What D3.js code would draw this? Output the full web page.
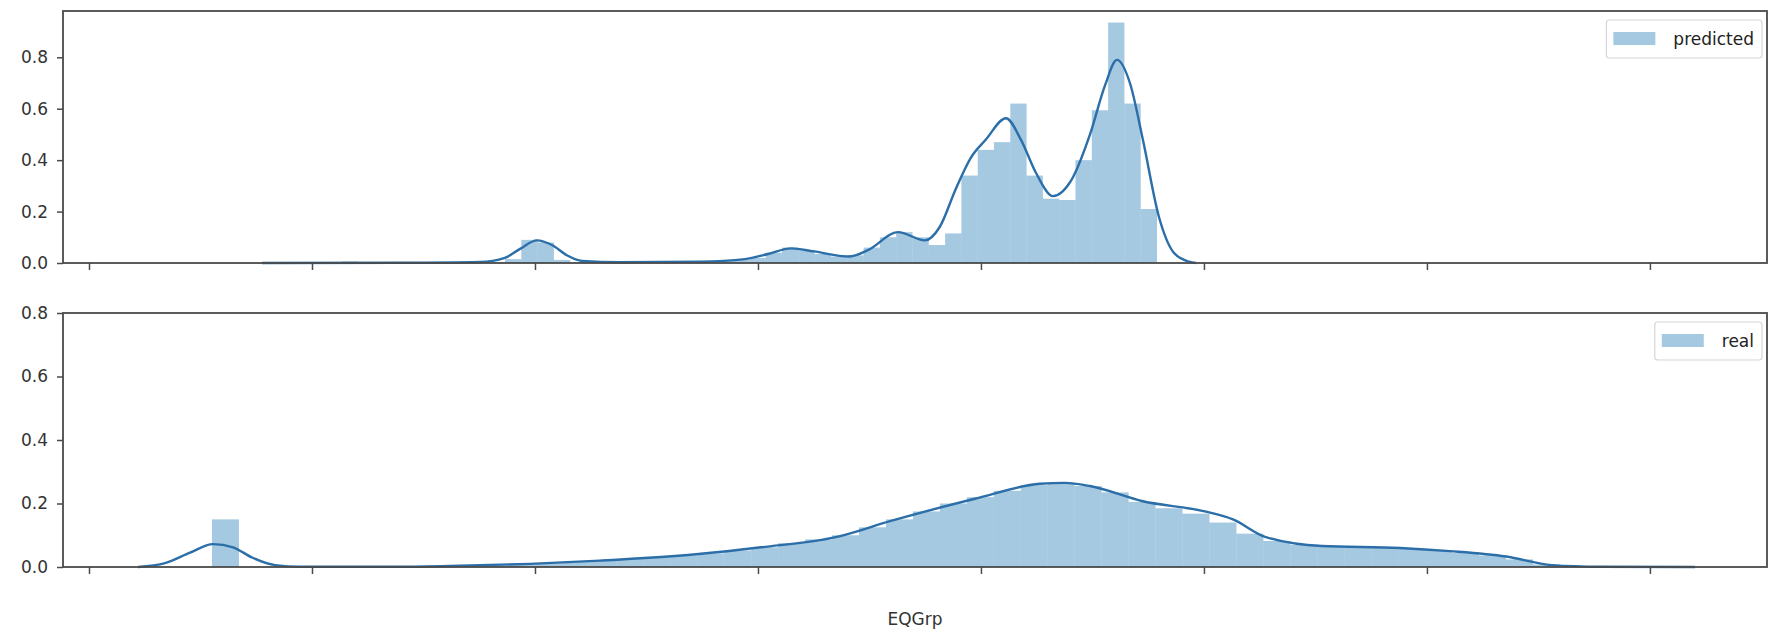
<!DOCTYPE html>
<html>
<head>
<meta charset="utf-8">
<script src="https://cdn.jsdelivr.net/npm/d3@7"></script>
<style>
  body { margin: 0; background: #fff; }
  text { font-family: "DejaVu Sans", sans-serif; }
</style>
</head>
<body>
<div id="chart"></div>
<script>
// x ticks carry no labels in the source picture
var xTicks = [0, 1, 2, 3, 4, 5, 6, 7];
var yTicksTop = [0, 0.2, 0.4, 0.6, 0.8];
var yTicksBottom = [0, 0.2, 0.4, 0.6, 0.8];

// predicted: 50 histogram bins + kde curve
var predBinStart = 1.1345, predBinWidth = 0.0731;
var predHeights = [
  0.006, 0, 0, 0, 0, 0, 0.003, 0, 0.003, 0.004,
  0.015, 0.09, 0.08, 0.012, 0.003, 0, 0.003, 0.003, 0.004, 0.003,
  0.004, 0.005, 0.005, 0.008, 0.012, 0.02, 0.04, 0.06, 0.05, 0.035,
  0.025, 0.03, 0.06, 0.10, 0.12, 0.10, 0.07, 0.115, 0.34, 0.44,
  0.47, 0.62, 0.34, 0.25, 0.245, 0.40, 0.594, 0.935, 0.62, 0.21
];
var predKdeX = [0.776, 1.395, 1.753, 1.865, 1.933, 2.009, 2.076, 2.143, 2.211, 2.381,
  2.740, 2.942, 3.045, 3.148, 3.251, 3.408, 3.493, 3.628, 3.749, 3.815,
  3.888, 3.955, 4.022, 4.112, 4.179, 4.247, 4.323, 4.404, 4.489, 4.556,
  4.610, 4.668, 4.726, 4.798, 4.865, 4.933, 4.964];
var predKdeY = [0, 0.001, 0.004, 0.02, 0.055, 0.088, 0.07, 0.03, 0.008, 0.003,
  0.005, 0.015, 0.035, 0.057, 0.045, 0.025, 0.05, 0.12, 0.088, 0.14,
  0.29, 0.41, 0.48, 0.563, 0.48, 0.35, 0.26, 0.32, 0.50, 0.69,
  0.79, 0.70, 0.48, 0.18, 0.04, 0.005, 0];

// real: 50 histogram bins + kde curve
var realBinStart = 0.5516, realBinWidth = 0.1209;
var realHeights = [
  0.15, 0, 0, 0, 0, 0, 0, 0, 0.002, 0.004,
  0.006, 0.009, 0.012, 0.016, 0.02, 0.026, 0.032, 0.037, 0.043, 0.052,
  0.062, 0.075, 0.087, 0.10, 0.125, 0.15, 0.175, 0.20, 0.22, 0.24,
  0.258, 0.265, 0.255, 0.235, 0.205, 0.185, 0.168, 0.14, 0.105, 0.082,
  0.07, 0.064, 0.061, 0.06, 0.057, 0.051, 0.044, 0.036, 0.024, 0.008
];
var realKdeX = [0.220, 0.341, 0.453, 0.556, 0.646, 0.731, 0.834, 0.946, 1.395, 1.664,
  1.978, 2.291, 2.722, 3.013, 3.354, 3.596, 3.973, 4.265, 4.377, 4.489,
  4.726, 5.004, 5.130, 5.274, 5.529, 5.879, 6.103, 6.354, 6.561, 6.776, 7.202];
var realKdeY = [0, 0.012, 0.045, 0.072, 0.062, 0.03, 0.006, 0.001, 0.001, 0.004,
  0.01, 0.02, 0.04, 0.062, 0.095, 0.145, 0.215, 0.262, 0.265, 0.255,
  0.207, 0.175, 0.15, 0.095, 0.066, 0.06, 0.05, 0.033, 0.006, 0.001, 0];

var width = 1769, height = 634;
var plotLeft = 63, plotRight = 1767;
var barColor = "#1f77b4", lineColor = "#2b6ea8", spineColor = "#4a4a4a", textColor = "#333";

var svg = d3.select("#chart").append("svg")
    .attr("width", width)
    .attr("height", height);

var x = d3.scaleLinear().domain([-0.1166, 7.525]).range([plotLeft, plotRight]);

var panels = [
  { label: "predicted", top: 11, bottom: 263, yMax: 0.98, yTicks: yTicksTop,
    start: predBinStart, binW: predBinWidth, heights: predHeights, kx: predKdeX, ky: predKdeY },
  { label: "real", top: 313, bottom: 567, yMax: 0.8, yTicks: yTicksBottom,
    start: realBinStart, binW: realBinWidth, heights: realHeights, kx: realKdeX, ky: realKdeY }
];

panels.forEach(function(p) {
  var y = d3.scaleLinear().domain([0, p.yMax]).range([p.bottom, p.top]);
  var g = svg.append("g");

  // histogram
  g.append("g").selectAll("rect")
    .data(p.heights)
    .enter().append("rect")
    .attr("x", function(d, i) { return x(p.start + i * p.binW); })
    .attr("width", function(d, i) { return x(p.start + (i + 1) * p.binW) - x(p.start + i * p.binW); })
    .attr("y", function(d) { return y(d); })
    .attr("height", function(d) { return p.bottom - y(d); })
    .attr("fill", barColor)
    .attr("fill-opacity", 0.4);

  // kde
  var pts = p.kx.map(function(v, i) { return [v, p.ky[i]]; });
  var line = d3.line()
    .x(function(d) { return x(d[0]); })
    .y(function(d) { return y(d[1]); })
    .curve(d3.curveMonotoneX);
  g.append("path")
    .datum(pts)
    .attr("d", line)
    .attr("fill", "none")
    .attr("stroke", lineColor)
    .attr("stroke-width", 2.4);

  // axes
  var xAxis = g.append("g")
    .attr("transform", "translate(0," + p.bottom + ")")
    .call(d3.axisBottom(x).tickValues(xTicks).tickFormat("").tickSizeInner(7).tickSizeOuter(0));
  xAxis.select(".domain").remove();
  xAxis.selectAll("line").attr("stroke", spineColor).attr("stroke-width", 1.5);

  var yAxis = g.append("g")
    .attr("transform", "translate(" + plotLeft + ",0)")
    .call(d3.axisLeft(y).tickValues(p.yTicks).tickFormat(d3.format(".1f")).tickSizeInner(6).tickSizeOuter(0).tickPadding(9));
  yAxis.select(".domain").remove();
  yAxis.selectAll("line").attr("stroke", spineColor).attr("stroke-width", 1.5);
  yAxis.selectAll("text").attr("font-size", 17).attr("fill", textColor)
    .style("font-family", "DejaVu Sans, sans-serif");

  // spines
  g.append("rect")
    .attr("x", plotLeft).attr("y", p.top)
    .attr("width", plotRight - plotLeft).attr("height", p.bottom - p.top)
    .attr("fill", "none").attr("stroke", spineColor).attr("stroke-width", 1.8);

  // legend
  var leg = g.append("g");
  var frame = leg.append("rect");
  var txt = leg.append("text")
    .attr("font-size", 17)
    .attr("fill", "#222")
    .text(p.label);
  var tw = txt.node().getComputedTextLength();
  var fw = tw + 75, fh = 38;
  var fx = plotRight - 5 - fw, fy = p.top + 9;
  frame.attr("x", fx).attr("y", fy).attr("width", fw).attr("height", fh)
    .attr("rx", 3).attr("fill", "#fff").attr("stroke", "#d6d6d6").attr("stroke-width", 1.2);
  leg.append("rect")
    .attr("x", fx + 7).attr("y", fy + 12).attr("width", 42).attr("height", 13)
    .attr("fill", barColor).attr("fill-opacity", 0.4);
  txt.attr("x", fx + 67).attr("y", fy + 25);
});

// x label
svg.append("text")
  .attr("x", (plotLeft + plotRight) / 2)
  .attr("y", 625)
  .attr("text-anchor", "middle")
  .attr("font-size", 17)
  .attr("fill", textColor)
  .text("EQGrp");
</script>
</body>
</html>
